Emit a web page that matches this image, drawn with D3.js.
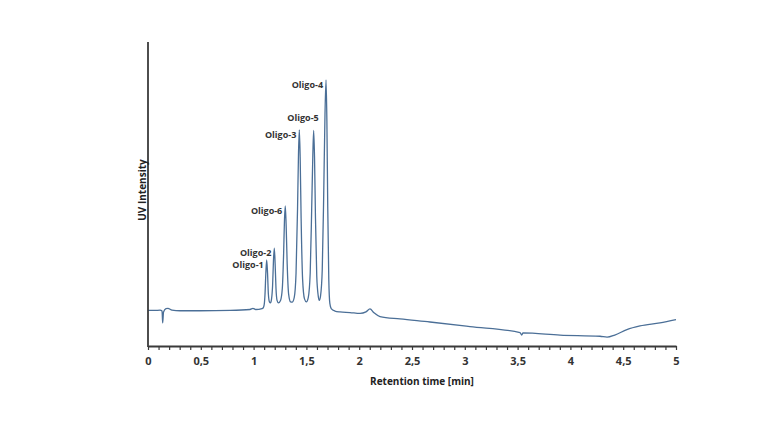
<!DOCTYPE html>
<html>
  <head>
    <title>Oligo chromatogram</title>
    <script src="https://d3js.org/d3.v7.min.js"></script>
    <style>
      body { margin: 0; background: #fff; }
      text { font-family: "Open Sans", sans-serif; }
    </style>
  </head>
  <body>
      <script>
        // retention time [min] and UV intensity (arbitrary units)
        let times = [0, 0.066, 0.114, 0.133, 0.139, 0.147, 0.170, 0.189, 0.227, 0.303, 0.49, 0.78, 0.966, 0.994, 1.02, 1.08,
                     1.09, 1.100, 1.108, 1.116, 1.124, 1.132, 1.140, 1.150, 1.160,
                     1.170, 1.180, 1.188, 1.196, 1.204, 1.212, 1.222, 1.235,
                     1.255, 1.272, 1.284, 1.292, 1.300, 1.308, 1.318, 1.332, 1.350, 1.365,
                     1.385, 1.402, 1.416, 1.425, 1.433, 1.441, 1.450, 1.464, 1.482, 1.500,
                     1.518, 1.536, 1.550, 1.561, 1.569, 1.577, 1.586, 1.598, 1.612, 1.622,
                     1.634, 1.650, 1.664, 1.676, 1.686, 1.694, 1.702, 1.712, 1.722, 1.735,
                     1.77, 1.818, 1.913, 2.008, 2.064, 2.102, 2.14, 2.197, 2.386, 2.67, 3.049, 3.523, 3.539, 3.551,
                     3.902, 4.28, 4.347, 4.42, 4.535, 4.659, 4.848, 5.0]
        let intensity = [11.7, 11.7, 11.8, 11.5, 7.6, 11.2, 12.3, 12.4, 11.8, 11.6, 11.6, 11.7, 12.0, 12.4, 12.0, 12.3,
                     12.5, 13.5, 17, 24, 28.3, 24, 17, 14.5, 14.2,
                     15.5, 20, 28, 32.2, 27, 19, 15, 14.2,
                     15, 19, 30, 41, 46.1, 40, 27, 17, 14.5, 14.4,
                     16, 24, 45, 63, 71.1, 62, 42, 22, 15.5, 14.5,
                     16, 24, 45, 63, 70.9, 62, 42, 23, 16.5, 15.0,
                     16.5, 25, 50, 76, 87.5, 74, 46, 22, 14, 12.3,
                     11.5, 11.2, 11.0, 10.7, 11.2, 12.2, 10.9, 9.7, 8.9, 7.9, 6.4, 4.4, 3.6, 4.3,
                     3.6, 3.2, 2.9, 3.6, 5.4, 6.6, 7.6, 8.7]

        // labelled peaks
        let peakNames = ['Oligo-1', 'Oligo-2', 'Oligo-6', 'Oligo-3', 'Oligo-5', 'Oligo-4']
        let peakTimes = [1.124, 1.196, 1.300, 1.433, 1.569, 1.686]
        let peakHeights = [28.3, 32.2, 46.1, 71.1, 70.9, 87.5]

        let xTickLabels = ['0', '0,5', '1', '1,5', '2', '2,5', '3', '3,5', '4', '4,5', '5']

        let width = 768, height = 432
        let plotLeft = 148, plotRight = 676, plotTop = 42, plotBottom = 346

        let svg = d3.select('body').append('svg')
                    .attr('width', width)
                    .attr('height', height)

        let xScale = d3.scaleLinear().domain([0, 5]).range([plotLeft, plotRight])
        let yScale = d3.scaleLinear().domain([0, 100]).range([plotBottom, plotTop])

        let data = times.map((t, i) => ({t: t, v: intensity[i]}))

        let line = d3.line()
                     .x(d => xScale(d.t))
                     .y(d => yScale(d.v))
                     .curve(d3.curveMonotoneX)

        svg.append('path')
           .attr('d', line(data))
           .attr('fill', 'none')
           .attr('stroke', '#4b6f97')
           .attr('stroke-width', 1.3)

        // x axis, minor ticks every 0.1 min, labels every 0.5
        let minorTicks = d3.range(0, 51).map(i => i / 10)
        let xAxis = d3.axisBottom(xScale)
                      .tickValues(minorTicks)
                      .tickSize(4)
                      .tickSizeOuter(0)
                      .tickFormat(d => {
                        let k = Math.round(d * 10)
                        return k % 5 === 0 ? xTickLabels[k / 5] : ''
                      })

        let gx = svg.append('g').attr('transform', `translate(0, ${plotBottom})`).call(xAxis)
        gx.select('.domain').attr('stroke', '#3a3a3a').attr('stroke-width', 1.8)
        gx.selectAll('.tick line').attr('stroke', '#3a3a3a').attr('stroke-width', 1.2)
        gx.selectAll('.tick text')
          .attr('y', 11)
          .attr('font-size', 11)
          .attr('font-weight', 'bold')
          .attr('fill', '#333')
          .style('font-family', '"Open Sans", sans-serif')

        svg.append('line')
           .attr('x1', plotLeft).attr('x2', plotLeft)
           .attr('y1', plotTop).attr('y2', plotBottom + 1)
           .attr('stroke', '#3a3a3a')
           .attr('stroke-width', 1.8)

        svg.append('text')
           .attr('x', (plotLeft + plotRight) / 2 + 10)
           .attr('y', 385)
           .attr('text-anchor', 'middle')
           .attr('font-size', 10)
           .attr('font-weight', 'bold')
           .attr('fill', '#222')
           .text('Retention time [min]')

        svg.append('text')
           .attr('transform', `translate(146, 190) rotate(-90)`)
           .attr('text-anchor', 'middle')
           .attr('font-size', 10)
           .attr('font-weight', 'bold')
           .attr('fill', '#222')
           .text('UV Intensity')

        // peak labels sit just left of the apex; Oligo-5 sits above its apex
        svg.selectAll('text.peak').data(peakNames)
           .enter().append('text')
           .attr('class', 'peak')
           .attr('x', (d, i) => xScale(peakTimes[i]) + (d === 'Oligo-5' ? 5 : -3))
           .attr('y', (d, i) => yScale(peakHeights[i]) + (d === 'Oligo-5' ? -9 : 8))
           .attr('text-anchor', 'end')
           .attr('font-size', 9)
           .attr('font-weight', 'bold')
           .attr('fill', '#333')
           .text(d => d)
      </script>
  </body>
</html>
